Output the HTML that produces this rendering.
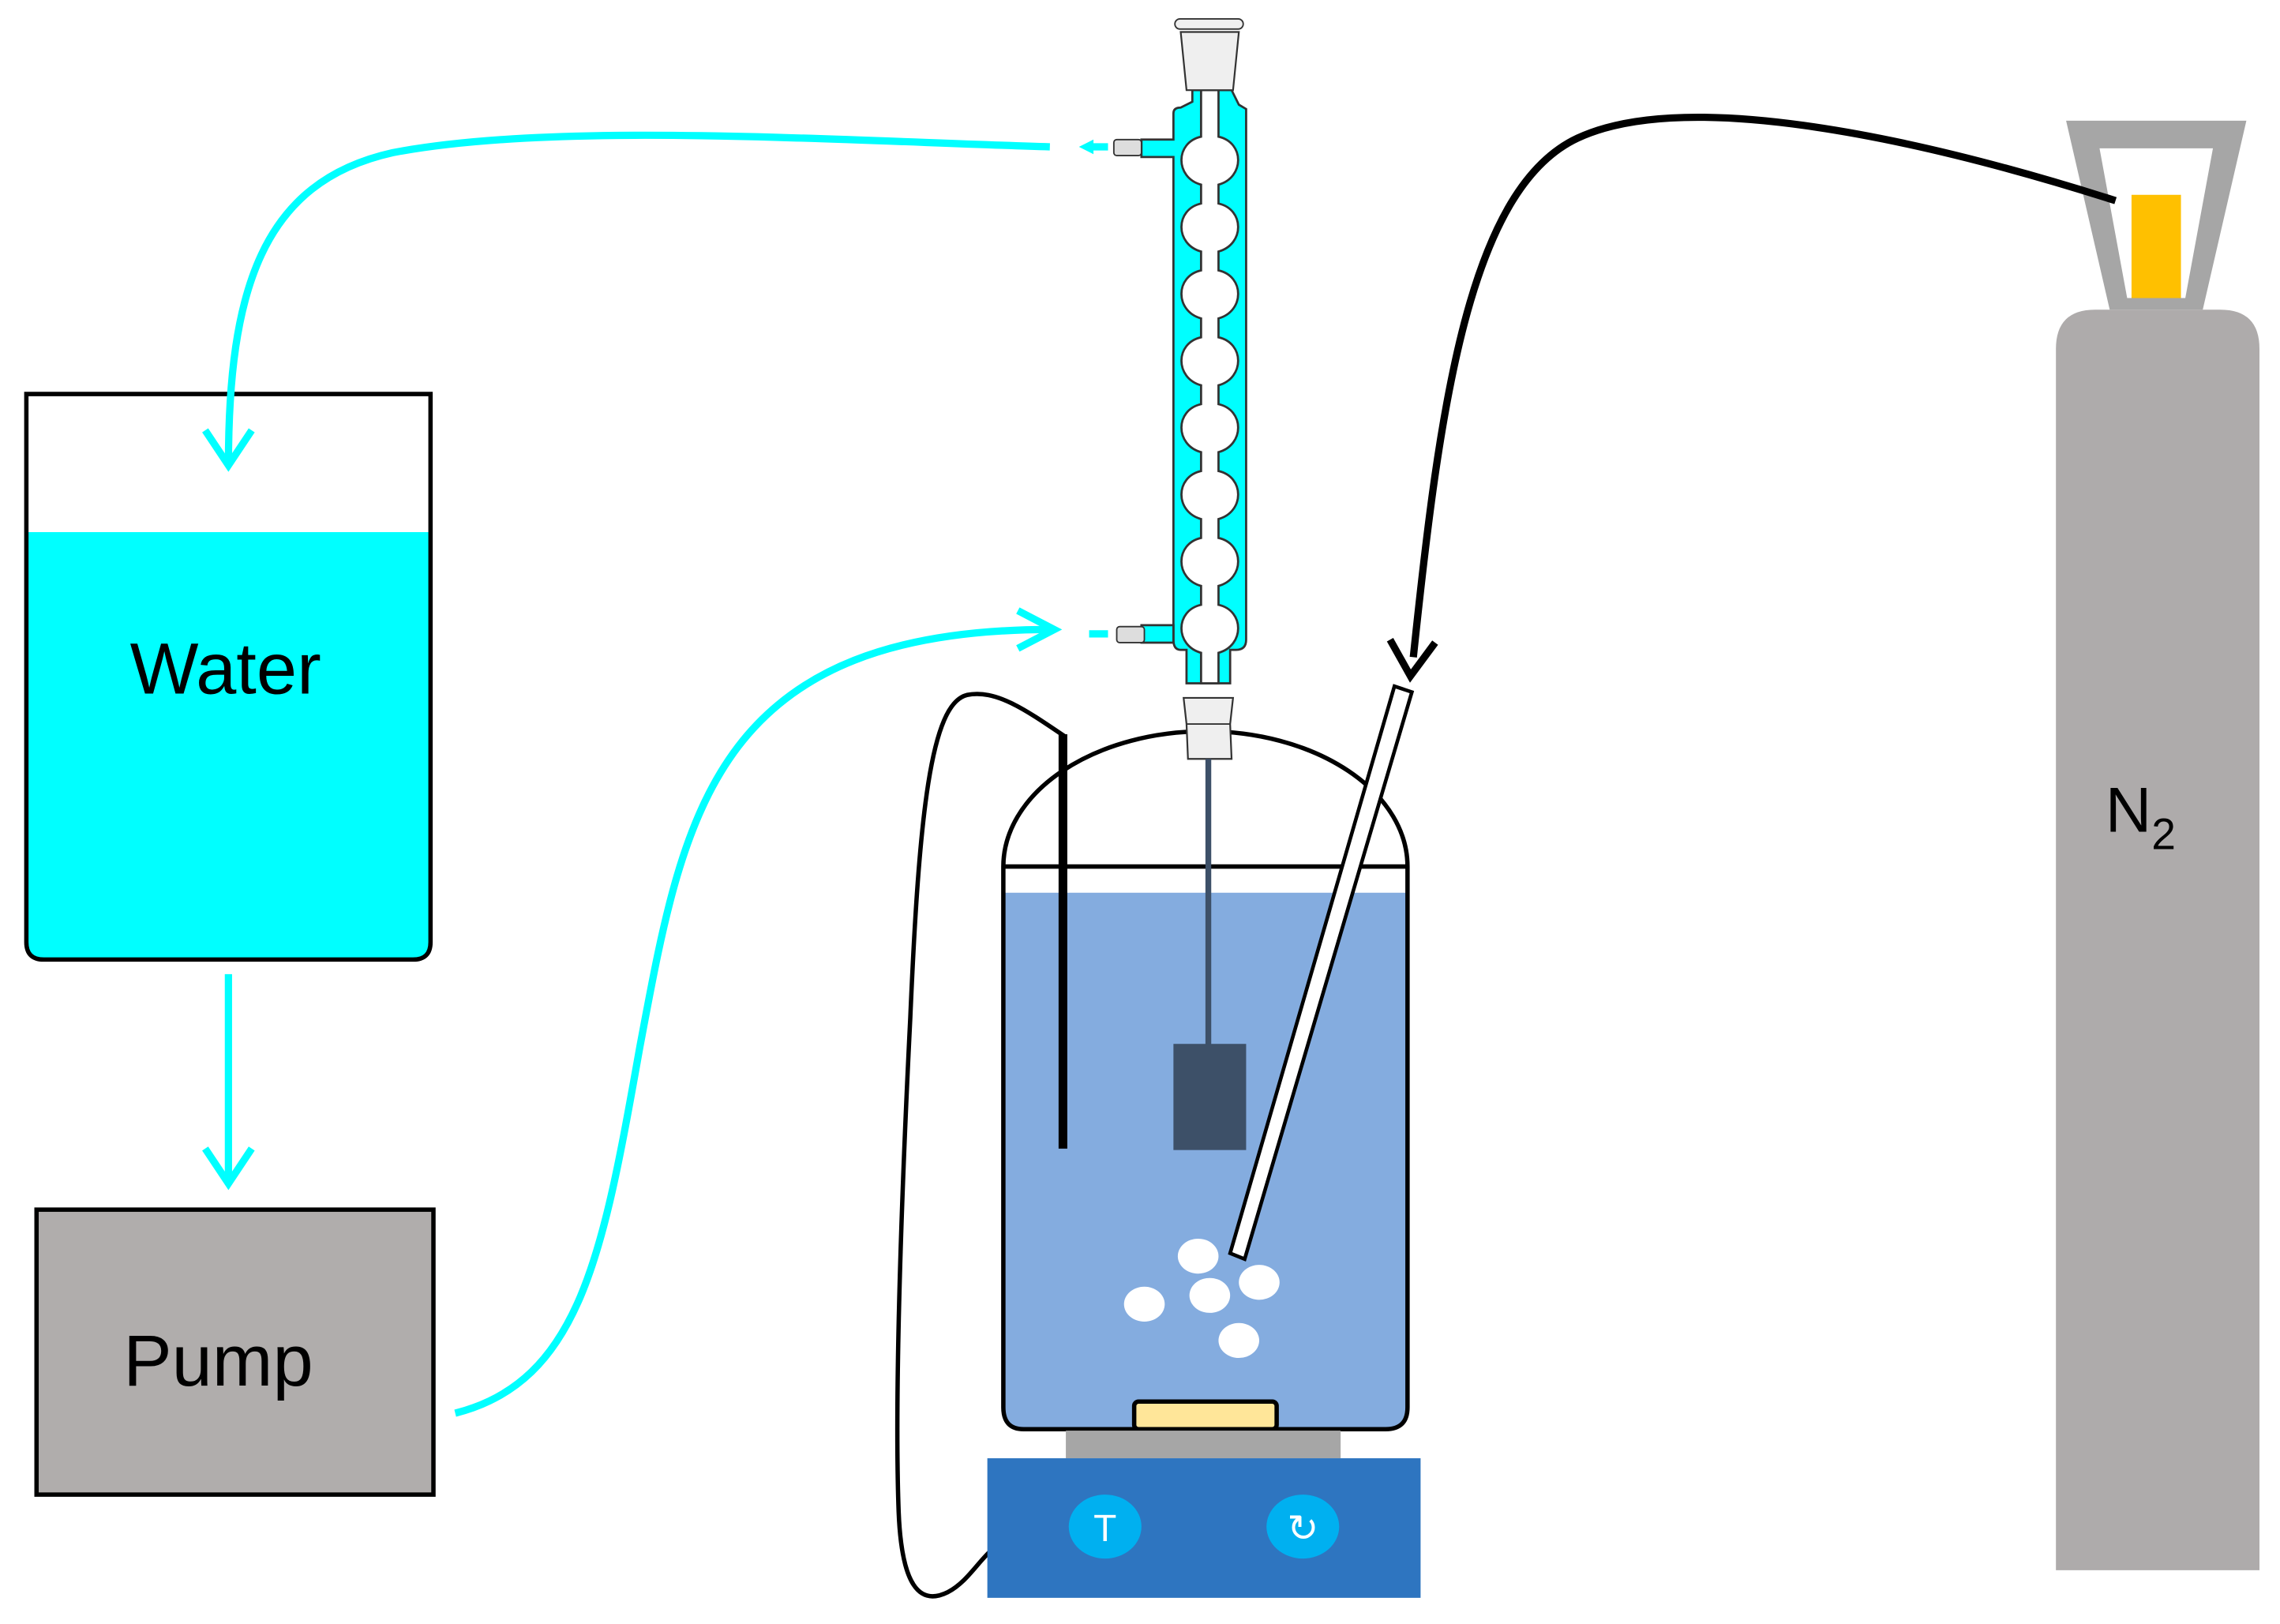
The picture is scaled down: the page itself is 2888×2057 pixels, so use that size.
<!DOCTYPE html>
<html><head><meta charset="utf-8"><style>
html,body{margin:0;padding:0;background:#fff;}
svg{display:block;}
text{font-family:"Liberation Sans","DejaVu Sans",sans-serif;}
</style></head><body>
<svg width="2888" height="2057" viewBox="0 0 1568 1117" xmlns="http://www.w3.org/2000/svg">
<rect width="1568" height="1117" fill="#fff"/>
<!-- Water beaker -->
<path d="M18,366 H296 V648 Q296,660 284,660 H30 Q18,660 18,648 Z" fill="#00ffff"/>
<path d="M18,271 H296 V648 Q296,660 284,660 H30 Q18,660 18,648 Z" fill="none" stroke="#000" stroke-width="3"/>
<text x="155" y="477" font-size="50" text-anchor="middle" fill="#000">Water</text>
<!-- Pump -->
<rect x="25" y="832" width="273" height="196" fill="#b0adac" stroke="#000" stroke-width="3"/>
<text x="150" y="953" font-size="50" text-anchor="middle" fill="#000">Pump</text>
<!-- cyan arrows -->
<g stroke="#00ffff" stroke-width="5" fill="none" stroke-linecap="butt">
<line x1="157" y1="670" x2="157" y2="814"/>
<polyline points="141,790 157,814 173,790"/>
<path d="M722,101 C560,96 380,84 270,105 C180,125 157,200 157,320"/>
<polyline points="141,296 157,320 173,296"/>
<path d="M313,972 C400,950 415,860 440,720 C470,560 490,432 725,433"/>
<polyline points="700,420 725,433 700,446"/>
<line x1="749" y1="436" x2="762" y2="436"/>
<line x1="748" y1="101" x2="762" y2="101"/>
</g>
<polygon points="742,101 752,96 752,106" fill="#00ffff"/>
<!-- condenser -->
<path d="M820,62 H847 L852,72 L857,75 V440 Q857,447 850,447 L846,447 V470 H816 V447 L812,447 Q807,447 807,440 V108 H785 V96 H807 V78 Q807,74 812,74 L820,70 Z" fill="#00ffff" stroke="#333" stroke-width="1.5"/>
<path d="M785,430 H807 V442 H785 Z" fill="#00ffff" stroke="#333" stroke-width="1.5"/>
<path d="M826,62 V94 C808,98 808,122 826,127 V140 C808,144 808,168 826,173 V186 C808,190 808,214 826,219 V232 C808,236 808,260 826,265 V278 C808,282 808,306 826,311 V324 C808,328 808,352 826,357 V370 C808,374 808,398 826,403 V416 C808,420 808,444 826,449 V470 H838 V449 C856,444 856,420 838,416 V403 C856,398 856,374 838,370 V357 C856,352 856,328 838,324 V311 C856,306 856,282 838,278 V265 C856,260 856,236 838,232 V219 C856,214 856,190 838,186 V173 C856,168 856,144 838,140 V127 C856,122 856,98 838,94 V62 Z" fill="#fff" stroke="#333" stroke-width="1.5"/>
<rect x="766" y="96" width="19" height="11" rx="2" fill="#ddd" stroke="#333"/>
<rect x="768" y="431" width="19" height="11" rx="2" fill="#ddd" stroke="#333"/>
<path d="M812,22 H852 L848,62 H816 Z" fill="#efefef" stroke="#333" stroke-width="1.2"/>
<rect x="808" y="13" width="47" height="7" rx="3.5" fill="#efefef" stroke="#333"/>
<!-- reactor -->
<path d="M690,614 H968 V968 Q968,983 953,983 H704 Q690,983 690,968 Z" fill="#84acdf"/>
<path d="M690,596 A139,93 0 0 1 968,596 V968 Q968,983 953,983 H704 Q690,983 690,968 Z" fill="none" stroke="#000" stroke-width="3"/>
<line x1="690" y1="596" x2="968" y2="596" stroke="#000" stroke-width="3"/>
<path d="M814,480 H848 L846,498 L847,522 H817 L816,498 Z" fill="#efefef" stroke="#333" stroke-width="1.2"/>
<line x1="816" y1="498" x2="846" y2="498" stroke="#333"/>
<line x1="831" y1="522" x2="831" y2="720" stroke="#3d5068" stroke-width="4"/>
<rect x="807" y="718" width="50" height="73" fill="#3d5068"/>
<line x1="731" y1="505" x2="731" y2="790" stroke="#000" stroke-width="6"/>
<path d="M733,507 C705,488 685,474 665,478 C640,484 632,560 626,700 C620,820 615,960 618,1040 C620,1090 632,1105 652,1095 C665,1088 672,1075 682,1066" fill="none" stroke="#000" stroke-width="3"/>
<polygon points="959,472 971,476 856,866 846,862" fill="#fff" stroke="#000" stroke-width="2.5"/>
<g fill="#fff"><ellipse cx="824" cy="864" rx="14" ry="12"/><ellipse cx="866" cy="882" rx="14" ry="12"/><ellipse cx="832" cy="891" rx="14" ry="12"/><ellipse cx="787" cy="897" rx="14" ry="12"/><ellipse cx="852" cy="922" rx="14" ry="12"/></g>
<rect x="780" y="964" width="98" height="19" rx="3" fill="#ffe699" stroke="#000" stroke-width="3"/>
<rect x="733" y="984" width="189" height="19" fill="#a6a6a6"/>
<rect x="679" y="1003" width="298" height="96" fill="#2e75c0"/>
<ellipse cx="760" cy="1050" rx="25" ry="22" fill="#00b0f0"/>
<ellipse cx="896" cy="1050" rx="25" ry="22" fill="#00b0f0"/>
<text x="760" y="1060" font-size="26" fill="#fff" text-anchor="middle">T</text>
<text x="896" y="1060" font-size="26" fill="#fff" text-anchor="middle" font-family="DejaVu Sans">↻</text>
<!-- N2 cylinder -->
<path d="M1414,240 Q1414,213 1441,213 H1527 Q1554,213 1554,240 V1080 H1414 Z" fill="#aeabab"/>
<text x="1448" y="572" font-size="44" fill="#000">N<tspan font-size="30" dy="12">2</tspan></text>
<path d="M1421,83 H1545 L1515,213 H1451 Z M1444,102 L1463,205 H1503 L1522,102 Z" fill="#a6a6a6" fill-rule="evenodd"/>
<rect x="1466" y="134" width="34" height="71" fill="#ffc000"/>
<!-- N2 line -->
<path d="M1455,138 C1320,95 1160,60 1085,95 C1010,130 990,280 972,452" fill="none" stroke="#000" stroke-width="5"/>
<polyline points="956,440 970,465 987,442" fill="none" stroke="#000" stroke-width="5"/>
</svg>
</body></html>
